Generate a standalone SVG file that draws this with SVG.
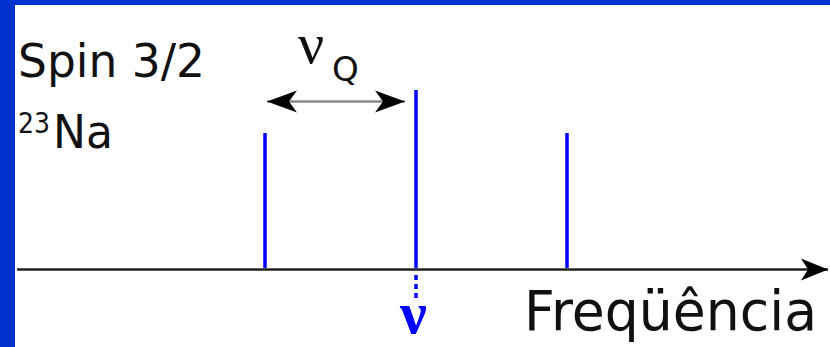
<svg xmlns="http://www.w3.org/2000/svg" width="830" height="347" viewBox="0 0 830 347">
<style>
.lbl{font-family:"DejaVu Sans","Liberation Sans",sans-serif;fill:#111}
.nu{font-family:"Liberation Serif","DejaVu Serif",serif}
.peak{stroke:#0000ff;stroke-width:3.5;fill:none}
</style>
<defs>
<marker id="ah" markerUnits="userSpaceOnUse" viewBox="-31 -12 32 24" refX="0" refY="0" markerWidth="32" markerHeight="24" orient="auto-start-reverse">
<path d="M0,0 L-30,-11 L-22,0 L-30,11 Z" fill="#000"/>
</marker>
<marker id="ax" markerUnits="userSpaceOnUse" viewBox="-29 -12 30 24" refX="0" refY="0" markerWidth="30" markerHeight="24" orient="auto">
<path d="M0,0 L-27,-11 L-20,0 L-27,11 Z" fill="#000"/>
</marker>
</defs>
<rect x="0" y="0" width="830" height="347" fill="#ffffff"/>
<path d="M0,0 H830 V5 H15 V347 H0 Z" fill="#0033cc"/>
<g id="connectors">
<line x1="17" y1="269.5" x2="828" y2="269.5" stroke="#222" stroke-width="2.5" marker-end="url(#ax)"/>
<line x1="267" y1="101.5" x2="405" y2="101.5" stroke="#888" stroke-width="2.5" marker-start="url(#ah)" marker-end="url(#ah)"/>
</g>
<g id="peaks">
<line class="peak" x1="265" y1="133" x2="265" y2="268"/>
<line class="peak" x1="416" y1="90" x2="416" y2="268"/>
<line class="peak" x1="567" y1="133" x2="567" y2="268"/>
<line class="peak" x1="416" y1="275" x2="416" y2="298" stroke-dasharray="5 4"/>
</g>
<g id="label-spin">
<text class="lbl" x="18" y="77" font-size="46" textLength="187" lengthAdjust="spacingAndGlyphs">Spin 3/2</text>
</g>
<g id="label-na">
<text class="lbl" x="18" y="133" font-size="28" textLength="32" lengthAdjust="spacingAndGlyphs">23</text>
<text class="lbl" x="53" y="148" font-size="46" textLength="60" lengthAdjust="spacingAndGlyphs">Na</text>
</g>
<g id="label-nuq">
<text class="nu" x="298" y="63" font-size="58" fill="#111">ν</text>
<text class="lbl" x="332" y="81" font-size="34">Q</text>
</g>
<g id="label-nu">
<text class="nu" x="400" y="333" font-size="60" font-weight="bold" fill="#0000ff">ν</text>
</g>
<g id="label-freq">
<text class="lbl" x="524" y="330" font-size="56" textLength="293" lengthAdjust="spacingAndGlyphs">Freqüência</text>
</g>
</svg>
